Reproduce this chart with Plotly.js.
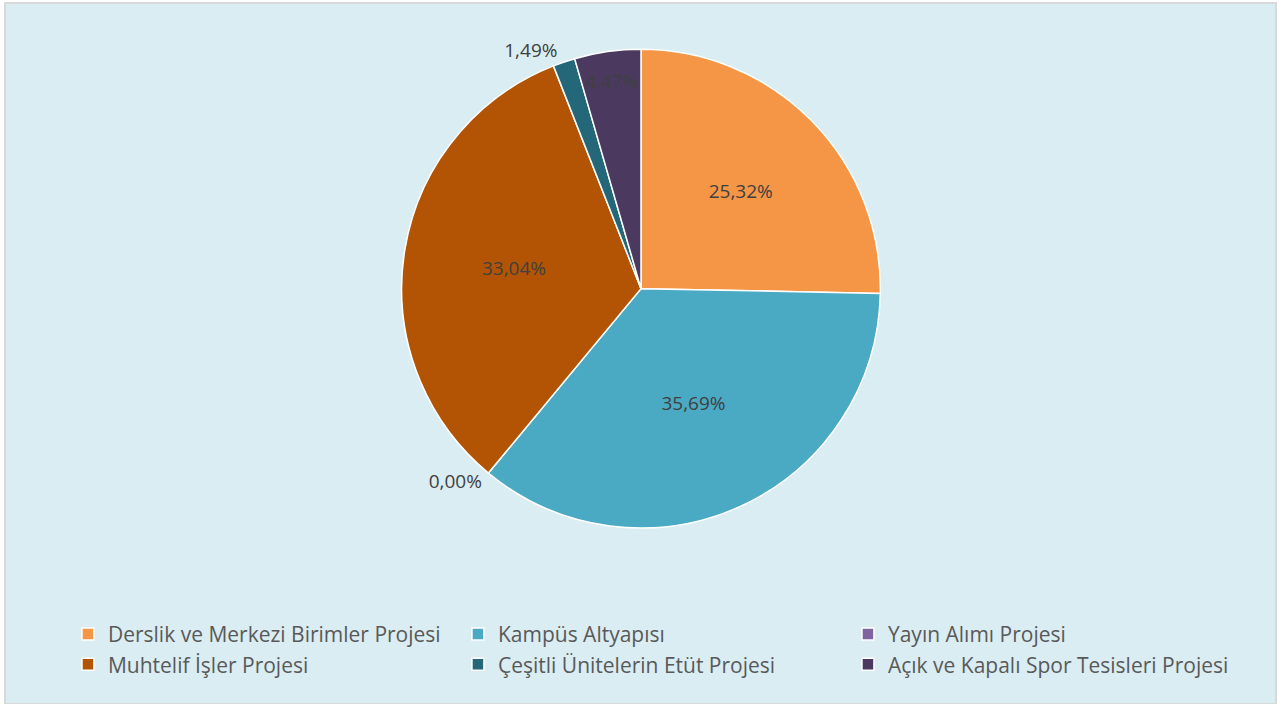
<!DOCTYPE html>
<html>
<head>
<meta charset="utf-8">
<script src="https://cdn.plot.ly/plotly-3.0.1.min.js"></script>
<style>
html,body{margin:0;padding:0;background:#ffffff;}
#chart{width:1282px;height:704px;}
</style>
</head>
<body>
<div id="chart"></div>
<script>
const categories = [
  "Derslik ve Merkezi Birimler Projesi",
  "Kampüs Altyapısı",
  "Yayın Alımı Projesi",
  "Muhtelif İşler Projesi",
  "Çeşitli Ünitelerin Etüt Projesi",
  "Açık ve Kapalı Spor Tesisleri Projesi"
];
const shares = [25.32, 35.69, 0.00, 33.04, 1.49, 4.47];
const colors = ["#F59646", "#4AAAC4", "#8064A2", "#B35404", "#236778", "#4B3960"];
const labelPositions = ["inside", "inside", "outside", "inside", "outside", "inside"];

const FONT = "'Open Sans', 'Noto Sans', sans-serif";

const trace = {
  type: "pie",
  labels: categories,
  values: shares,
  sort: false,
  direction: "clockwise",
  rotation: 0,
  marker: {colors: colors, line: {color: "#ffffff", width: 1.5}},
  texttemplate: "%{percent:.2%}",
  textposition: labelPositions,
  insidetextorientation: "horizontal",
  textfont: {family: FONT, size: 19, color: "#404040"},
  outsidetextfont: {family: FONT, size: 19, color: "#404040"},
  hoverinfo: "label+percent",
  domain: {x: [0.1, 0.9], y: [0.25, 0.93]}
};

const layout = {
  width: 1282,
  height: 704,
  margin: {l: 0, r: 0, t: 0, b: 0},
  paper_bgcolor: "#ffffff",
  separators: ",.",
  showlegend: true,
  font: {family: FONT, color: "#595959"},
  legend: {
    orientation: "h",
    x: 0.053,
    xanchor: "left",
    y: 0.128,
    yanchor: "top",
    entrywidth: 345,
    entrywidthmode: "pixels",
    traceorder: "normal",
    font: {size: 21, color: "#595959"},
    bgcolor: "rgba(0,0,0,0)"
  },
  shapes: [{
    type: "rect", xref: "paper", yref: "paper", layer: "below",
    x0: 5/1282, x1: 1276/1282, y0: 0, y1: 1 - 3/704,
    fillcolor: "#DAEDF3", line: {color: "#D9D9D9", width: 2}
  }]
};

Plotly.newPlot("chart", [trace], layout, {displayModeBar: false, staticPlot: true});
</script>
</body>
</html>
